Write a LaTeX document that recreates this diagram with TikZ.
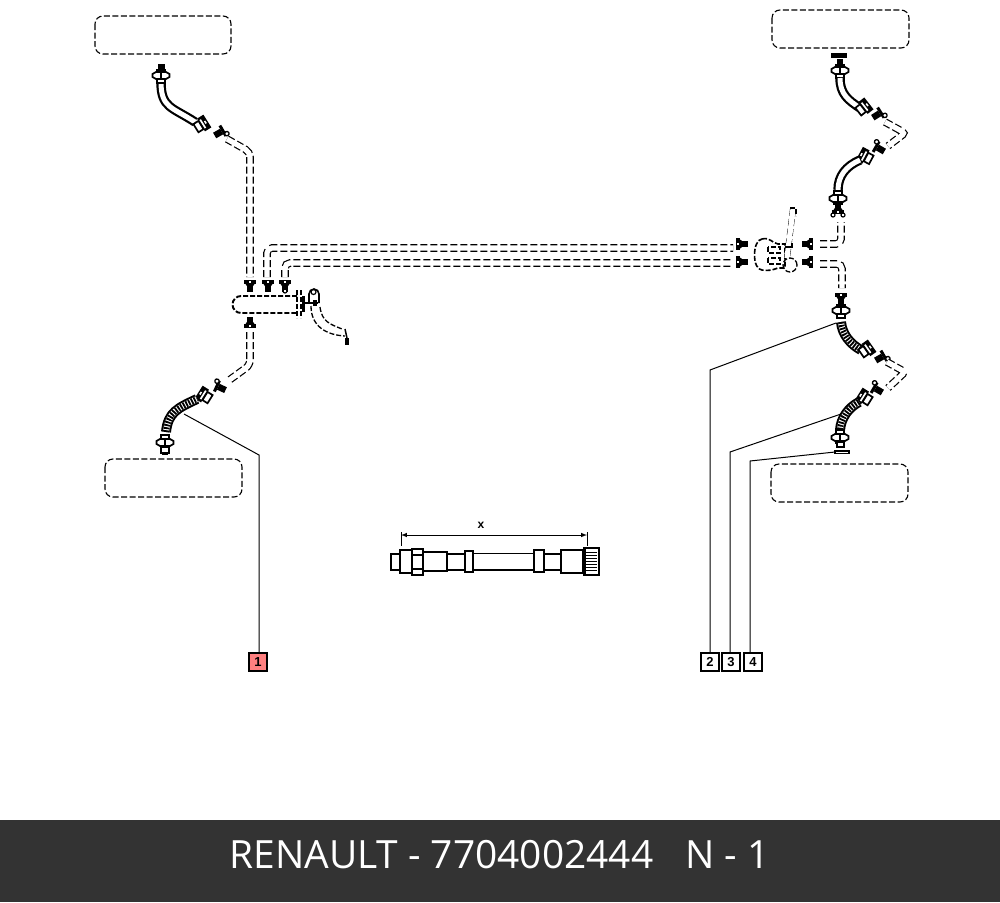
\documentclass[tikz,border=0pt]{standalone}
\usepackage{fontspec}
\setmainfont{Open Sans}
\newfontfamily\labfont{Liberation Sans}
\definecolor{barc}{HTML}{333333}
\definecolor{redc}{HTML}{FF8080}
\tikzset{
 x=1pt,y=-1pt,
 outline/.style={draw=black,line width=1.1pt,dash pattern=on 6pt off 2.5pt,rounded corners=8pt},
 pipe/.style={draw=black,line width=7.6pt,dash pattern=on 7pt off 3pt,rounded corners=5pt,postaction={draw=white,solid,line width=5.2pt}},
 hosepl/.style={draw=black,line width=2.2pt,double=white,double distance=5pt},
 hosebr/.style={draw=black,line width=6pt,dash pattern=on 1.8pt off 1.2pt,preaction={draw=black,solid,line width=10pt},preaction={draw=white,solid,line width=6pt}},
 partl/.style={draw=black,line width=1.7pt,fill=white},
 dashl/.style={draw=black,line width=1.6pt,dash pattern=on 5pt off 2pt},
 leader/.style={draw=black,line width=1pt},
 numbox/.style={draw=black,line width=1.1pt,fill=white,minimum size=18pt,inner sep=0pt,font=\labfont\bfseries\fontsize{13}{13}\selectfont},
 flangep/.pic={
  \path[partl] (-4,-7) rectangle (4,6);
  \path[partl] (-8.5,-3) -- (-5,-5) -- (5,-5) -- (8.5,-3) -- (8.5,0) -- (5,2) -- (-5,2) -- (-8.5,0) -- cycle;
  \fill (-1.3,-5) rectangle (1.3,2);
 },
 collarp/.pic={
  \path[partl] (-6,-4.8) rectangle (0,4.8);
  \fill (0,-7.5) rectangle (7.5,7.5);
  \fill[white] (1.3,-5) rectangle (3,5);
  \fill[white] (4.4,-1.5) rectangle (6,1.5);
 },
 fitp/.pic={
  \fill (-5,-3.2) rectangle (3,3.2);
  \fill (3,-6) rectangle (6,6);
  \path[draw=black,line width=1.3pt,fill=white] (6.5,4.5) circle (2.2pt);
 },
 teep/.pic={
  \fill (-2.8,-3.5) rectangle (2.8,7.5);
  \fill (-6.2,-4.2) rectangle (6.2,0.3);
  \fill[white] (-1,-2.8) rectangle (1,-1);
  \fill (-4.5,0) -- (4.5,0) -- (2.8,2.5) -- (-2.8,2.5) -- cycle;
 },
}
\begin{document}
\begin{tikzpicture}
\useasboundingbox (0,0) rectangle (1000,902);
\fill[white] (0,0) rectangle (1000,902);
% wheel outlines
\draw[outline] (95,16) rectangle (231,54);
\draw[outline] (772,10) rectangle (909,48);
\draw[outline] (105,459) rectangle (242,497);
\draw[outline] (771,464) rectangle (908,502);
% top-left hose
\coordinate (tlA) at (227,139);
\coordinate (tlB) at (250,277);
\draw[hosepl] (161,82) .. controls (161,108) and (172,107) .. (195,122);
\pic[rotate=32] at (201,125) {collarp};
\pic at (161,77) {flangep};
\fill (157.5,64) rectangle (164.5,71);
\pic[rotate=30] at (219,133) {fitp};
\draw[pipe] (tlA) -- (250,152) -- (tlB);
% centre-left fittings
\coordinate (pipe2L) at (267,277);
\coordinate (pipe3L) at (285,277);
\coordinate (pipe2R) at (733,248);
\coordinate (pipe3R) at (733,263);
\draw[pipe] (pipe2L) -- (267,248) -- (pipe2R);
\draw[pipe] (pipe3L) -- (285,263) -- (pipe3R);
\pic at (250,284) {teep};
\pic at (268,284) {teep};
\pic at (285,284) {teep};
\draw[black,line width=1.2pt,fill=white] (285,291) circle (2pt);
% manifold
\draw[dashl,line width=1.9pt] (297,296) -- (241,296) arc[start angle=-90,end angle=-270,radius=8.5] -- (297,313);
\draw[dashl] (297,290) -- (297,318);
\draw[dashl] (301,290) -- (301,318);
\fill (302,296) rectangle (304.5,312);
% bracket and curved pipe
\draw[black,line width=1.6pt] (309,303) -- (309,294) arc[start angle=180,end angle=360,radius=5] -- (319,303);
\draw[black,line width=1.6pt] (304,303) -- (318,303);
\fill (313,300) rectangle (317,306);
\draw[black,line width=1.2pt] (313.5,292) circle (2.5pt);
\draw[dashl,line width=1.3pt] (311,306) .. controls (311,326) and (326,335) .. (345,336);
\draw[dashl,line width=1.3pt] (320,307) .. controls (322,322) and (330,324) .. (342,329);
\fill (345,338) rectangle (349,345);
\draw[black,line width=1.5pt] (345,329) -- (347,338);
% lower-left hose
\pic[rotate=180] at (250,324) {teep};
\coordinate (blA) at (250,332);
\coordinate (blB) at (228,381);
\draw[pipe] (blA) -- (250,365) -- (blB);
\pic[rotate=155] at (221,388) {fitp};
\pic[rotate=148] at (205,396) {collarp};
\path[hosebr] (166,432) .. controls (168,412) and (178,408) .. (197,399);
\pic[rotate=180] at (165,441) {flangep};
\path[partl] (161,447) rectangle (169,453);
\fill (162,452) rectangle (168,455);
% top-right hose
\fill (831,53) rectangle (847,57.5);
\fill (837,59) rectangle (843,65);
\pic at (840,72) {flangep};
\draw[hosepl] (840,78) .. controls (840,94) and (848,100) .. (860,108);
\pic[rotate=38] at (863,108) {collarp};
\pic[rotate=32] at (877,115) {fitp};
\coordinate (trA) at (885,122);
\coordinate (trB) at (888,146);
\draw[pipe,rounded corners=3pt] (trA) -- (905,133) -- (trB);
\pic[rotate=150] at (880,149) {fitp};
\pic[rotate=152] at (866,157) {collarp};
\draw[hosepl] (860,160) .. controls (846,166) and (838,176) .. (838,190);
\pic[rotate=180] at (838,197) {flangep};
\pic[rotate=180] at (838,210) {teep};
\draw[black,line width=1.2pt,fill=white] (833,215) circle (2pt);
\draw[black,line width=1.2pt,fill=white] (843,215) circle (2pt);
% centre-right
\pic[rotate=90] at (740,244) {teep};
\pic[rotate=90] at (740,262) {teep};
\draw[dashl] (762,239) .. controls (770,237) and (772,243) .. (778,244) -- (785,244) -- (785,268) -- (778,268) .. controls (772,270) and (770,271) .. (762,270) .. controls (752,270) and (752,240) .. (762,239);
\draw[dashl,line width=1.3pt] (768,247) rectangle (780,253);
\draw[dashl,line width=1.3pt] (768,258) rectangle (780,264);
\coordinate (vtA) at (793,209);
\coordinate (vtB) at (787,258);
\draw[pipe,line width=6pt,postaction={draw=white,solid,line width=3.8pt}] (vtA) -- (vtB);
\draw[dashl,line width=1.3pt] (790,265) circle (7pt);
\draw[black,line width=1.5pt] (792,243) -- (792,247) -- (785,247);
\draw[dashl,line width=1.2pt] (790,208) -- (796,208) -- (796,216);
\pic[rotate=-90] at (809,244) {teep};
\pic[rotate=-90] at (809,262) {teep};
\coordinate (mrA) at (820,244);
\coordinate (mrB) at (841,222);
\coordinate (mrC) at (820,264);
\coordinate (mrD) at (842,288);
\draw[pipe] (mrA) -- (841,244) -- (mrB);
\draw[pipe] (mrC) -- (842,264) -- (mrD);
% lower-right hoses
\pic at (841,297) {teep};
\pic at (841,312) {flangep};
\path[hosebr] (841,322) .. controls (842,334) and (850,344) .. (861,350);
\pic[rotate=35] at (866,350) {collarp};
\pic[rotate=30] at (880,358) {fitp};
\coordinate (lrA) at (887,362);
\coordinate (lrB) at (888,388);
\draw[pipe,rounded corners=3pt] (lrA) -- (905,372) -- (lrB);
\pic[rotate=150] at (878,390) {fitp};
\pic[rotate=148] at (865,398) {collarp};
\path[hosebr] (859,402) .. controls (848,408) and (841,418) .. (840,430);
\pic[rotate=180] at (840,436) {flangep};
\path[partl] (837,442) rectangle (844,447);
\draw[black,line width=1.4pt,fill=white] (835,451) rectangle (849,453.5);
% leaders and number boxes
\node[numbox,fill=redc] (n1) at (258,662) {1};
\node[numbox] (n2) at (710,662) {2};
\node[numbox] (n3) at (731,662) {3};
\node[numbox] (n4) at (753,662) {4};
\coordinate (l1a) at (184,414);
\coordinate (l2a) at (836,323);
\coordinate (l3a) at (841,414);
\coordinate (l4a) at (835,452);
\draw[leader] (n1.north) ++(1,0) -- (259,455) -- (l1a);
\draw[leader] (n2.north) -- (710,370) -- (l2a);
\draw[leader] (n3.north) ++(-1,0) -- (730,452) -- (l3a);
\draw[leader] (n4.north) ++(-3,0) -- (750,461) -- (l4a);
% length detail
\coordinate (dimA) at (401,535);
\coordinate (dimB) at (587,535);
\draw[line width=1pt] (dimA) ++(0,-3) -- ++(0,14);
\draw[line width=1pt] (dimB) ++(0,-3) -- ++(0,14);
\draw[line width=1pt,<->,>=latex] (dimA) -- (dimB);
\node[font=\labfont\bfseries\fontsize{12}{12}\selectfont,inner sep=0pt] (xlab) at (481,525) {x};
\path[partl] (391,554) rectangle (400,570);
\path[partl] (447,554) rectangle (465,570);
\path[partl] (473,553.5) rectangle (534,570);
\path[partl] (544,554) rectangle (561,570);
\path[partl] (423,552) rectangle (447,571);
\path[partl] (400,550) rectangle (412,573);
\path[partl] (412,549) rectangle (423,575);
\draw[line width=1.2pt] (412,555) -- (423,555) (412,569) -- (423,569);
\path[partl] (465,551) rectangle (473,572);
\path[partl] (534,550) rectangle (544,572);
\path[partl] (561,550) rectangle (583,573);
\path[partl] (584,548) rectangle (599,575);
\foreach \yy in {552,555,558,561,564,567,570} \draw[line width=1pt] (586,\yy) -- (597,\yy);
\draw[line width=2pt] (585,548) -- (585,575);
% footer
\fill[barc] (0,820) rectangle (1000,902);
\node[text=white,inner sep=0pt,font=\fontsize{38.9}{40}\selectfont] (title) at (499.5,855) {RENAULT - 7704002444\hspace{0.82em}N - 1};
\end{tikzpicture}
\end{document}
